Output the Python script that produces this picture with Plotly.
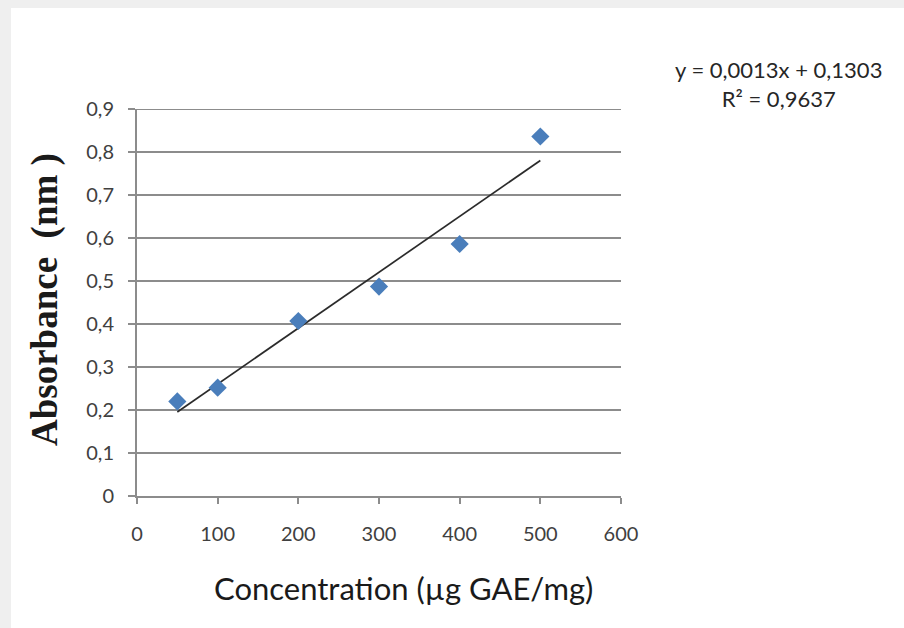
import plotly.graph_objects as go

# Calibration data: gallic acid standard
concentration = [50, 100, 200, 300, 400, 500]
absorbance = [0.22, 0.252, 0.407, 0.487, 0.586, 0.836]

# Linear trendline coefficients (as reported)
slope = 0.0013
intercept = 0.1303
r_squared = 0.9637

x_ticks = [0, 100, 200, 300, 400, 500, 600]
y_ticks = [0, 0.1, 0.2, 0.3, 0.4, 0.5, 0.6, 0.7, 0.8, 0.9]
y_tick_labels = ["0", "0,1", "0,2", "0,3", "0,4", "0,5", "0,6", "0,7", "0,8", "0,9"]

trend_x = [min(concentration), max(concentration)]
trend_y = [slope * v + intercept for v in trend_x]

W, H = 904, 628
fig = go.Figure()

fig.add_trace(go.Scatter(
    x=trend_x, y=trend_y, mode="lines",
    line=dict(color="#2b2b2b", width=1.7),
    hoverinfo="skip", showlegend=False,
))
fig.add_trace(go.Scatter(
    x=concentration, y=absorbance, mode="markers",
    marker=dict(symbol="diamond", size=14, color="#4a7ebb",
                line=dict(width=0)),
    showlegend=False,
))

def fmt(v, digits):
    return f"{v:.{digits}f}".replace(".", ",")

eq_text = f"y = {fmt(slope, 4)}x + {fmt(intercept, 4)}<br>R² = {fmt(r_squared, 4)}"

sans = "Lato, 'Open Sans', sans-serif"
tick_font = dict(family=sans, size=20, color="#404040")
grid_col = "#8c8c8c"

fig.update_layout(
    width=W, height=H,
    margin=dict(l=137, r=283, t=109, b=132),
    paper_bgcolor="#efefef",
    plot_bgcolor="white",
    xaxis=dict(
        range=[0, 600], tickvals=x_ticks, ticktext=[str(v) for v in x_ticks],
        showgrid=False, zeroline=False,
        showline=True, linecolor=grid_col, linewidth=2,
        ticks="outside", ticklen=6, tickwidth=2, tickcolor=grid_col,
        ticklabelstandoff=13, tickfont=tick_font,
    ),
    yaxis=dict(
        range=[0, 0.9], tickvals=y_ticks, ticktext=y_tick_labels,
        showgrid=True, gridcolor=grid_col, gridwidth=1.8, zeroline=False,
        showline=True, linecolor=grid_col, linewidth=2,
        ticks="outside", ticklen=7, tickwidth=2, tickcolor=grid_col,
        ticklabelstandoff=10, tickfont=tick_font,
    ),
    shapes=[
        # white chart sheet over the grey frame
        dict(type="rect", xref="paper", yref="paper",
             x0=-137 / 484 + 11 / 484, x1=1 + 283 / 484,
             y0=-132 / 387, y1=1 + (109 - 8) / 387,
             fillcolor="white", line=dict(width=0), layer="below"),
        # gridline at the top of the value axis
        dict(type="line", xref="paper", yref="y",
             x0=0, x1=1, y0=y_ticks[-1], y1=y_ticks[-1],
             line=dict(color=grid_col, width=1.8)),
    ],
    annotations=[
        dict(text=eq_text, xref="paper", yref="paper",
             x=(778 - 137) / 484, y=(496 - 84) / 387,
             xanchor="center", yanchor="middle", showarrow=False,
             align="center",
             font=dict(family=sans, size=22, color="#262626")),
        dict(text="Concentration (µg GAE/mg)", xref="paper", yref="paper",
             x=(403 - 137) / 484, y=(496 - 588) / 387,
             xanchor="center", yanchor="middle", showarrow=False,
             font=dict(family=sans, size=31, color="#1a1a1a")),
        dict(text="<b>Absorbance  (nm )</b>", xref="paper", yref="paper",
             x=(45 - 137) / 484, y=(496 - 300) / 387,
             xanchor="center", yanchor="middle", showarrow=False, textangle=-90,
             font=dict(family="'Liberation Serif', 'DejaVu Serif', serif", size=37, color="#1a1a1a")),
    ],
)

fig.write_html("out.html")
